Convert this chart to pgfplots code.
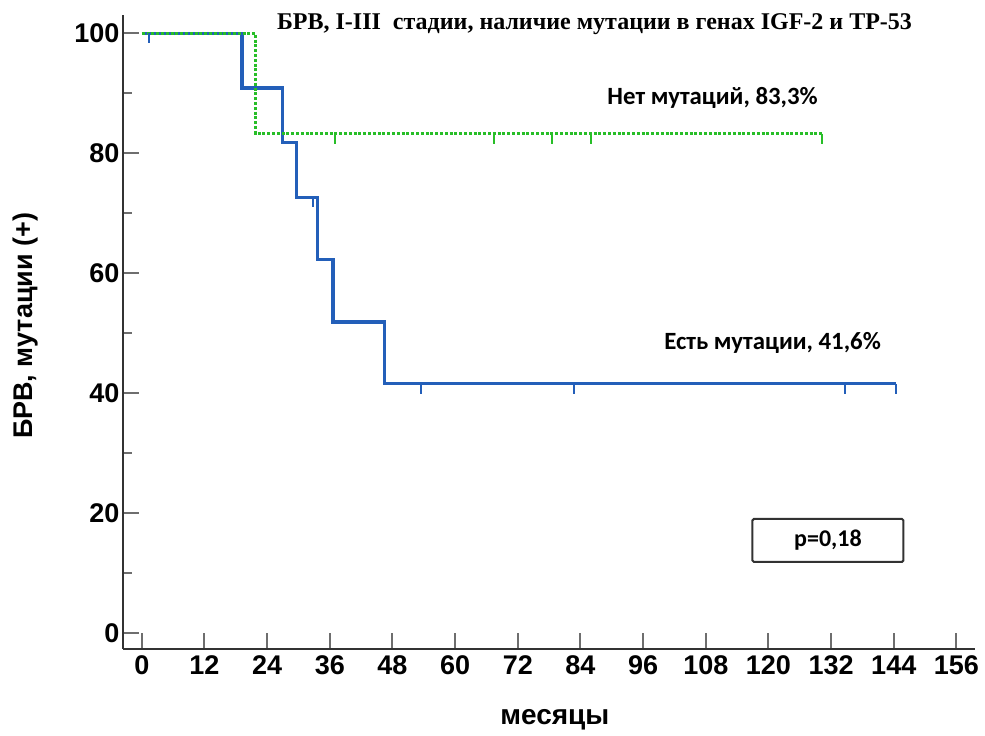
\documentclass[border=0pt]{standalone}
\usepackage{fontspec}
\setmainfont{Liberation Sans}
\newfontfamily\titlefont{Liberation Serif}
\newfontfamily\notefont{Carlito}
\usepackage{pgfplots}
\pgfplotsset{compat=1.18}

\definecolor{kmblue}{RGB}{35,95,185}
\definecolor{kmgreen}{RGB}{40,190,40}
\definecolor{axisgray}{RGB}{50,50,50}
\definecolor{tickgray}{RGB}{110,110,110}

% censoring mark: a short stroke hanging down from the curve
\pgfdeclareplotmark{censor}{%
  \pgfpathmoveto{\pgfpoint{0pt}{0pt}}%
  \pgfpathlineto{\pgfpoint{0pt}{-10pt}}%
  \pgfusepathqstroke}

\begin{document}
\begin{tikzpicture}
\useasboundingbox (0,0) rectangle (985pt,736pt);
\begin{axis}[
  at={(123pt,87pt)}, anchor=south west,
  scale only axis, width=851.7pt, height=633.6pt,
  xmin=-3.6, xmax=159.5, ymin=-2.6, ymax=103,
  axis lines=left,
  axis line style={-, line width=2.7pt, color=axisgray},
  clip=false,
  xtick={0,12,...,156},
  ytick={0,20,...,100},
  minor ytick={10,30,...,90},
  tick align=inside,
  major tick length=16pt,
  minor tick length=9pt,
  tick style={line width=2pt, color=tickgray},
  /pgf/number format/assume math mode=true,
  ticklabel style={font=\fontsize{27}{31}\selectfont\bfseries},
  xticklabel style={yshift=-3pt},
  yticklabel style={xshift=0pt},
  xlabel={месяцы},
  xlabel style={at={(axis description cs:0.507,-0.112)}, anchor=center,
    font=\fontsize{28}{32}\selectfont\bfseries},
  ylabel={БРВ, мутации (+)},
  ylabel style={at={(axis description cs:-0.1145,0.51)}, anchor=center,
    font=\fontsize{27}{31}\selectfont\bfseries},
]
% group with mutations
\addplot[const plot, color=kmblue, line width=3.2pt] coordinates {
  (0,100) (19.2,90.9) (26.9,81.8) (29.6,72.7) (33.6,62.3)
  (36.6,51.9) (46.5,41.6) (144.5,41.6)
};
\addplot[only marks, mark=censor, color=kmblue, mark options={line width=2pt}] coordinates {
  (1.4,100) (32.8,72.7) (53.4,41.6) (82.7,41.6) (134.7,41.6) (144.5,41.6)
};
% group without mutations
\addplot[const plot, color=kmgreen, line width=3pt, dash pattern=on 3pt off 1.8pt] coordinates {
  (0,100) (21.8,83.3) (130.3,83.3)
};
\addplot[only marks, mark=censor, color=kmgreen, mark options={line width=2pt}] coordinates {
  (37,83.3) (67.5,83.3) (78.6,83.3) (86.1,83.3) (130.3,83.3)
};

\node[font=\titlefont\fontsize{24}{28}\selectfont\bfseries] at (axis cs:86.7,101.5)
  {БРВ, I-III~ стадии, наличие мутации в генах IGF-2 и ТР-53};
\node[font=\notefont\fontsize{24.8}{29}\selectfont\bfseries] at (axis cs:109.3,89.2)
  {Нет мутаций, 83,3\%};
\node[font=\notefont\fontsize{24.8}{29}\selectfont\bfseries] at (axis cs:120.8,48.4)
  {Есть мутации, 41,6\%};
\node[draw=axisgray, line width=2pt, rounded corners=1.5pt,
  minimum width=151pt, minimum height=43pt,
  font=\notefont\fontsize{24}{28}\selectfont\bfseries] at (axis cs:131.4,15.5) {p=0,18};
\end{axis}
\end{tikzpicture}
\end{document}
